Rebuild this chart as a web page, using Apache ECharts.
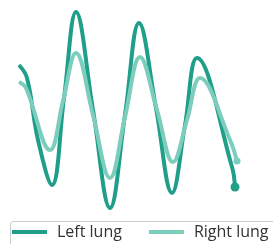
<!DOCTYPE html>
<html>
<head>
<meta charset="utf-8">
<script src="https://cdn.jsdelivr.net/npm/echarts@6/dist/echarts.min.js"></script>
<style>
  html, body { margin: 0; padding: 0; background: #fff; }
  #chart { width: 273px; height: 244px; }
</style>
</head>
<body>
<div id="chart"></div>
<script>
// breathing trace, time in s, volume in arbitrary units
const leftTime = [0.05, 0.45, 1.0, 1.7, 2.3, 2.9, 3.75, 4.6, 5.35, 6.05, 6.9, 7.7, 8.35, 8.95, 10.7, 10.85];
const leftVol  = [72.5, 66, 35, 12.5, 56, 99, 50, 1, 47.5, 93.5, 51, 8.5, 42.5, 76, 21.5, 11.5];

const rightTime = [0.05, 0.4, 1.6, 2.25, 2.9, 3.75, 4.6, 5.35, 6.1, 6.95, 7.75, 8.45, 9.1, 10.6, 10.95];
const rightVol  = [64, 61, 30, 54.5, 78.5, 47.5, 16, 46.5, 76.5, 50, 24, 45, 66, 35, 24.5];

const seriesNames = ['Left lung', 'Right lung'];

function toData(times, vols, endSize) {
    // only the last point gets a dot
    return times.map((t, i) => {
        if (i === times.length - 1) {
            return { value: [t, vols[i]], symbol: 'circle', symbolSize: endSize };
        }
        return [t, vols[i]];
    });
}

const chart = echarts.init(document.getElementById('chart'));

const option = {
    animation: false,
    grid: { left: 18, width: 220, top: 10, height: 200 },
    xAxis: { type: 'value', min: 0, max: 11, show: false },
    yAxis: { type: 'value', min: 0, max: 100, show: false },
    // legend frame runs off the right and bottom edges
    graphic: [{
        type: 'rect',
        left: 8,
        top: 219,
        shape: { width: 320, height: 60, r: 3 },
        style: { fill: 'none', stroke: '#cccccc', lineWidth: 1 }
    }],
    legend: {
        left: 8,
        top: 219,
        width: 320,
        padding: [5, 30, 30, 4],
        itemWidth: 35,
        itemHeight: 4,
        itemGap: 27,
        textStyle: {
            fontFamily: 'Open Sans',
            fontSize: 16,
            color: '#333333',
            padding: [0, 0, 0, 5]
        },
        data: seriesNames.map(n => ({ name: n, icon: 'rect' }))
    },
    series: [
        {
            name: seriesNames[0],
            type: 'line',
            smooth: 0.4,
            symbol: 'none',
            showSymbol: true,
            lineStyle: { color: '#1f9e89', width: 4 },
            itemStyle: { color: '#1f9e89' },
            data: toData(leftTime, leftVol, 9)
        },
        {
            name: seriesNames[1],
            type: 'line',
            smooth: 0.4,
            symbol: 'none',
            showSymbol: true,
            lineStyle: { color: '#7dcdbd', width: 4 },
            itemStyle: { color: '#7dcdbd' },
            data: toData(rightTime, rightVol, 7)
        }
    ]
};

chart.setOption(option);
</script>
</body>
</html>
